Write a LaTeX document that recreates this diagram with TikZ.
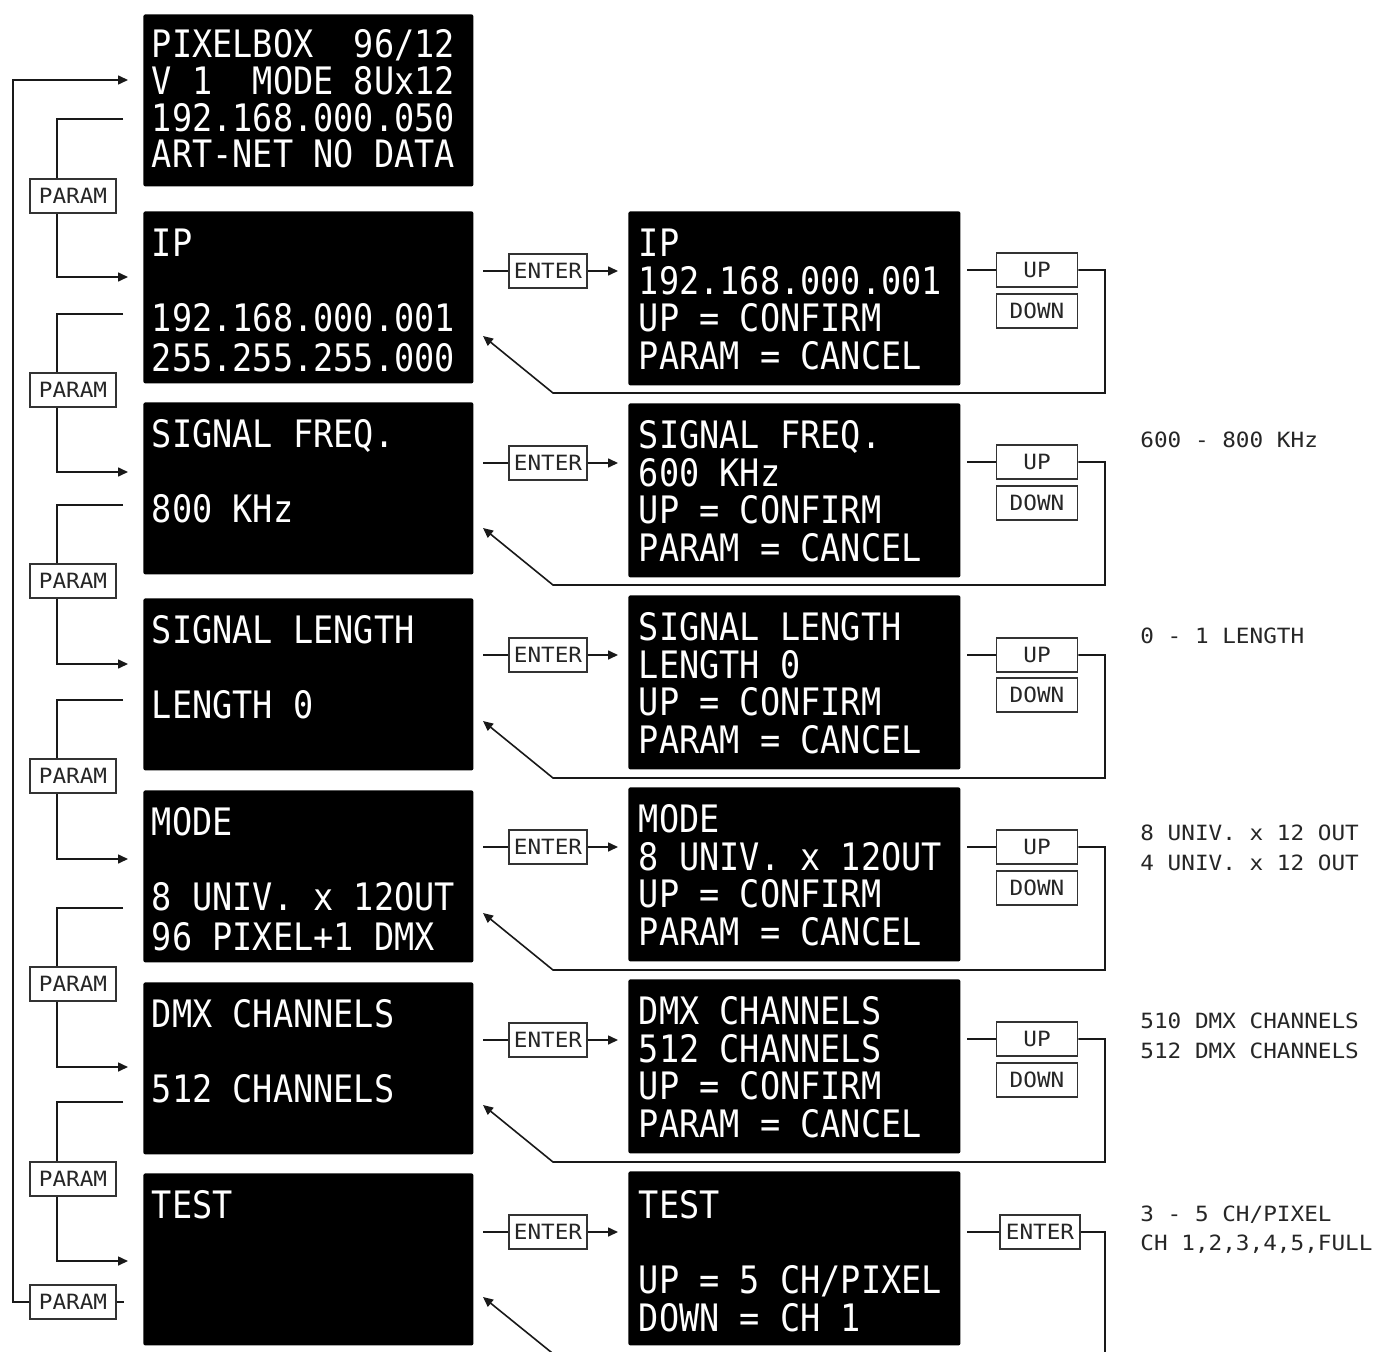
\documentclass[tikz,border=0pt]{standalone}
\usepackage{fontspec}
\usetikzlibrary{arrows.meta}
\newfontfamily\lcdfont[FakeStretch=0.888]{DejaVu Sans Mono}
\newfontfamily\btnfont[FakeStretch=1.08]{DejaVu Sans Mono}
\newcommand\lcdstrut{\rule{0pt}{16pt}}
\begin{document}
\begin{tikzpicture}[x=0.5pt,y=-0.5pt,
  lcd/.style={fill=black, rounded corners=1pt, inner sep=0pt, anchor=north west},
  lcdtext/.style={anchor=north west, inner sep=0pt, text=white, align=left,
    font={\lcdfont\fontsize{18.9pt}{18.75pt}\selectfont\lineskiplimit=-30pt}},
  btn/.style={draw=black!80, line width=0.9pt, fill=white, minimum height=17pt,
    inner sep=0pt, font={\btnfont\fontsize{10.5pt}{12pt}\selectfont}, text=black!85},
  ann/.style={anchor=base west, inner sep=0pt, font={\btnfont\fontsize{10.5pt}{12pt}\selectfont}, text=black!85},
  conn/.style={line width=0.8pt, draw=black!90},
  arr/.style={conn, -{Triangle[length=5pt,width=4.5pt]}}
]
\useasboundingbox (0,0) rectangle (1379,1352);
\clip (0,0) rectangle (1379,1352);

% left LCD boxes
\foreach \t [count=\i from 0] in {14,211,402,598,790,982,1173}
  \node[lcd, minimum width=165pt, minimum height=86pt] (L\i) at (143,\t) {};
% right LCD boxes
\foreach \t [count=\i] in {211,403,595,787,979,1171}
  \node[lcd, minimum width=166pt, minimum height=87pt] (R\i) at (628,\t) {};

% left texts
\node[lcdtext] (TL0) at (151.5,25.5) {\lcdstrut PIXELBOX~~96/12\\[-0.4pt]V~1~~MODE~8Ux12\\[-0.4pt]192.168.000.050\\[-0.4pt]ART-NET~NO~DATA};
\node[lcdtext] (TL1) at (151.5,224) {\lcdstrut IP\\[18.75pt]192.168.000.001\\[1.5pt]255.255.255.000};
\node[lcdtext] (TL2) at (151.5,415) {\lcdstrut SIGNAL~FREQ.\\[18.75pt]800~KHz};
\node[lcdtext] (TL3) at (151.5,611) {\lcdstrut SIGNAL~LENGTH\\[18.75pt]LENGTH~0};
\node[lcdtext] (TL4) at (151.5,803) {\lcdstrut MODE\\[18.75pt]8~UNIV.~x~12OUT\\[1.5pt]96~PIXEL+1~DMX};
\node[lcdtext] (TL5) at (151.5,995) {\lcdstrut DMX~CHANNELS\\[18.75pt]512~CHANNELS};
\node[lcdtext] (TL6) at (151.5,1186) {\lcdstrut TEST};

% right texts
\node[lcdtext] (TR1) at (638.5,224.5) {\lcdstrut IP\\192.168.000.001\\UP~=~CONFIRM\\PARAM~=~CANCEL};
\node[lcdtext] (TR2) at (638.5,416.5) {\lcdstrut SIGNAL~FREQ.\\600~KHz\\UP~=~CONFIRM\\PARAM~=~CANCEL};
\node[lcdtext] (TR3) at (638.5,608.5) {\lcdstrut SIGNAL~LENGTH\\LENGTH~0\\UP~=~CONFIRM\\PARAM~=~CANCEL};
\node[lcdtext] (TR4) at (638.5,800.5) {\lcdstrut MODE\\8~UNIV.~x~12OUT\\UP~=~CONFIRM\\PARAM~=~CANCEL};
\node[lcdtext] (TR5) at (638.5,992.5) {\lcdstrut DMX~CHANNELS\\512~CHANNELS\\UP~=~CONFIRM\\PARAM~=~CANCEL};
\node[lcdtext] (TR6) at (638.5,1186) {\lcdstrut TEST\\[18.75pt]UP~=~5~CH/PIXEL\\[0.25pt]DOWN~=~CH~1};

% PARAM chain on the left
\coordinate (a0) at (128,80);
\foreach \yo/\yp/\ya [count=\i] in {119/196/277, 314/390/472, 505/581/664, 700/776/859, 908/984/1067, 1102/1179/1261} {
  \node[btn, minimum width=43pt] (P\i) at (73,\yp) {PARAM};
  \coordinate (o\i) at (123,\yo);
  \coordinate (a\i) at (128,\ya);
  \draw[conn] (o\i) -| ([xshift=-8pt]P\i.north);
  \draw[arr] ([xshift=-8pt]P\i.south) |- (a\i);
}
\node[btn, minimum width=43pt] (P7) at (73,1302) {PARAM};
\coordinate (s7) at (124,1302);
\draw[conn] (P7.east) -- (s7);
\draw[arr] (P7.west) -| (13,80) -- (a0);

% ENTER buttons
\foreach \ye [count=\r] in {271,463,655,847,1040,1232} {
  \node[btn, minimum width=39pt] (E\r) at (548,\ye) {ENTER};
  \coordinate (ei\r) at (483,\ye);
  \coordinate (eo\r) at (618,\ye);
  \draw[conn] (ei\r) -- (E\r.west);
  \draw[arr] (E\r.east) -- (eo\r);
}

% UP / DOWN buttons and return paths
\foreach \yu/\yd/\yr/\yt [count=\r] in {270/311/393/336, 462/503/585/528, 655/695/778/721, 847/888/970/913, 1039/1080/1162/1105} {
  \node[btn, minimum width=40.5pt] (U\r) at (1037,\yu) {UP};
  \node[btn, minimum width=40.5pt] (D\r) at (1037,\yd) {DOWN};
  \coordinate (ui\r) at (967,\yu);
  \coordinate (rt\r) at (483,\yt);
  \draw[conn] (ui\r) -- (U\r.west);
  \draw[arr] (U\r.east) -| (1105,\yr) -- (553,\yr) -- (rt\r);
}

% TEST row
\node[btn, minimum width=40pt] (E7) at (1040,1232) {ENTER};
\coordinate (ti) at (967,1232);
\coordinate (rt6) at (483,1297);
\draw[conn] (ti) -- (E7.west);
\draw[conn] (E7.east) -| (1105,1365);
\draw[arr] (567,1365) -- (rt6);

% annotations
\node[ann] (n2) at (1140,447) {600 - 800 KHz};
\node[ann] (n3) at (1140,643) {0 - 1 LENGTH};
\node[ann] (n4a) at (1140,840) {8 UNIV. x 12 OUT};
\node[ann] (n4b) at (1140,870) {4 UNIV. x 12 OUT};
\node[ann] (n5a) at (1140,1028) {510 DMX CHANNELS};
\node[ann] (n5b) at (1140,1058) {512 DMX CHANNELS};
\node[ann] (n6a) at (1140,1221) {3 - 5 CH/PIXEL};
\node[ann] (n6b) at (1140,1250) {CH 1,2,3,4,5,FULL};
\end{tikzpicture}
\end{document}
